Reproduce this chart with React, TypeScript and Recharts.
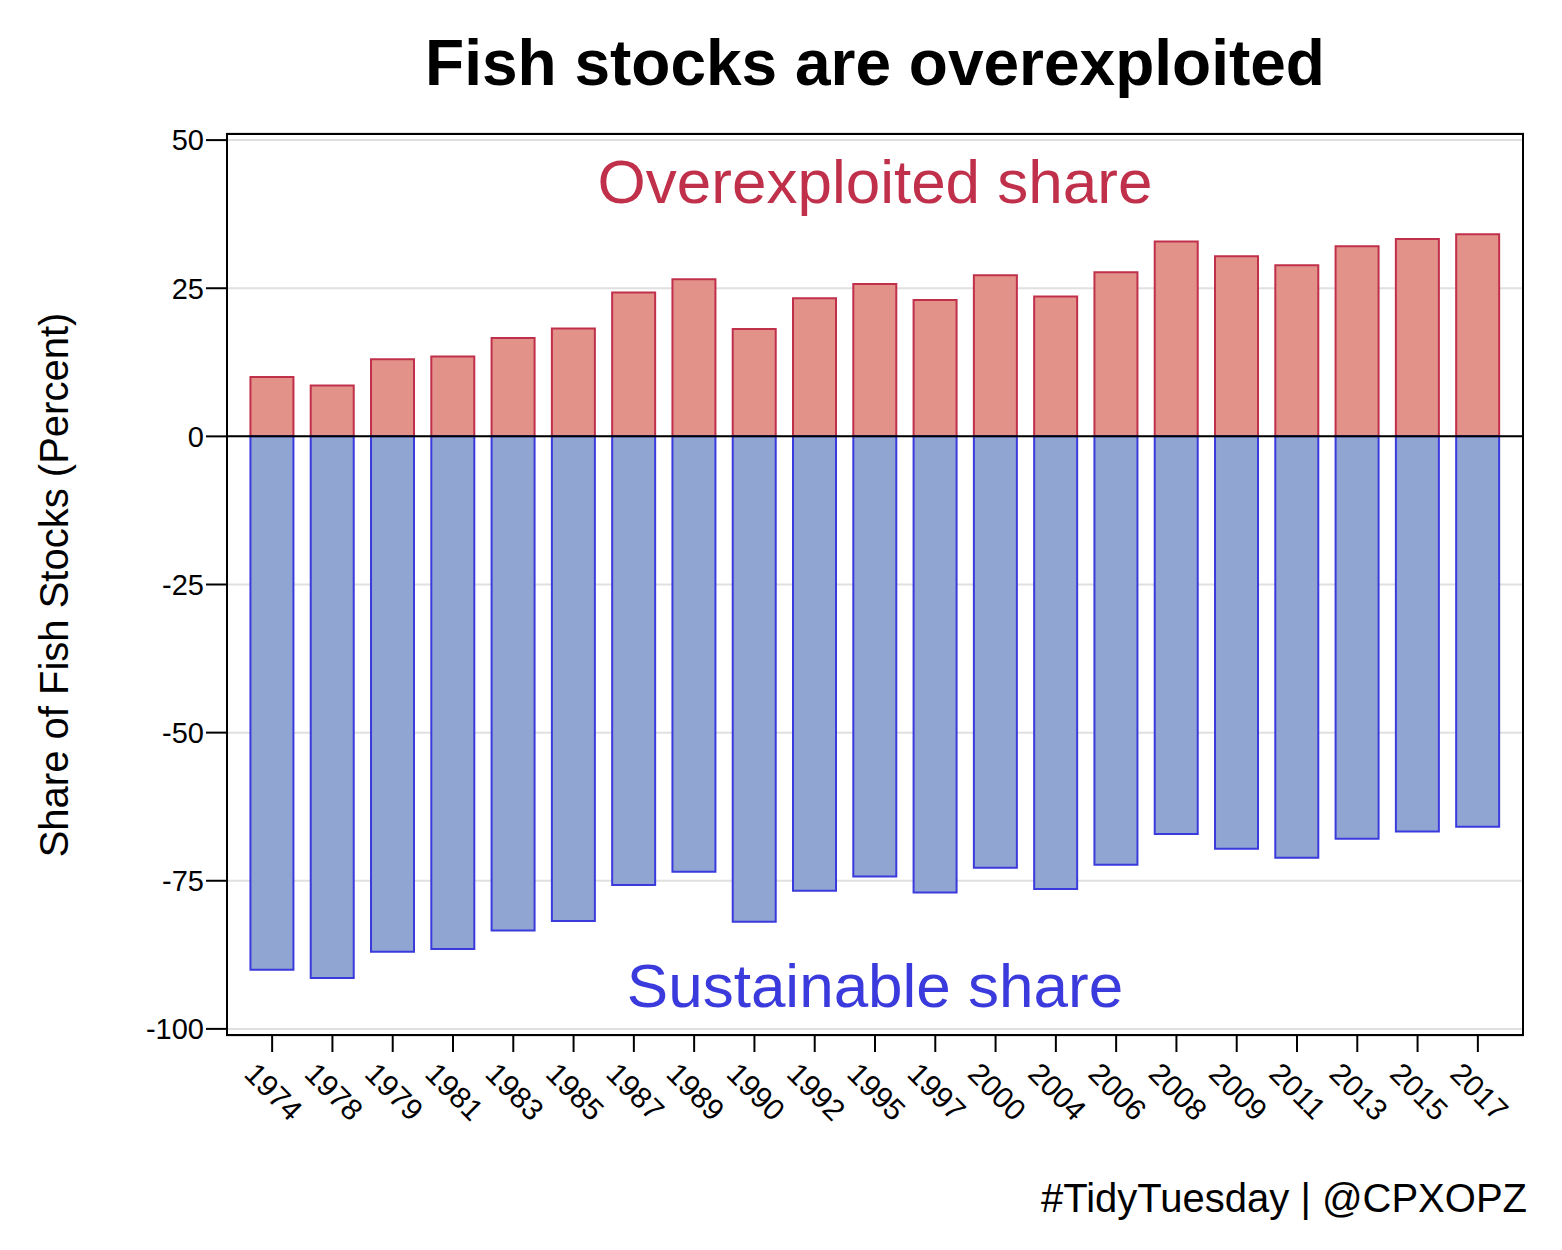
import React from "react";
import { ComposedChart, Bar, XAxis, YAxis, CartesianGrid, ReferenceLine } from "recharts";

const years = ["1974","1978","1979","1981","1983","1985","1987","1989","1990","1992","1995","1997","2000","2004","2006","2008","2009","2011","2013","2015","2017"];
const overexploited = [10.0,8.6,13.0,13.5,16.6,18.2,24.3,26.5,18.1,23.3,25.7,23.0,27.2,23.6,27.7,32.9,30.4,28.9,32.1,33.3,34.1];
const sustainable = overexploited.map((v) => -(100 - v));
const yTicks = [50, 25, 0, -25, -50, -75, -100];

const data = years.map((y, i) => ({ year: y, over: overexploited[i], sus: sustainable[i] }));
const font = "Arial, 'Liberation Sans', sans-serif";

const XTick = (props: any) => {
  const { x, y, payload } = props;
  const ax = x - 22, ay = y + 14;
  return (
    <text x={ax} y={ay} transform={`rotate(45, ${ax}, ${ay})`} fontSize={30} fontFamily={font} fill="#000" textAnchor="start" dominantBaseline="central">
      {payload.value}
    </text>
  );
};

export default function App() {
  return (
    <div style={{ position: "relative", width: 1546, height: 1234, fontFamily: font }}>
      <ComposedChart width={1546} height={1234} data={data} stackOffset="sign" margin={{ top: 125, right: 30, bottom: 106, left: 138 }} barCategoryGap="14%">
        <CartesianGrid vertical={false} stroke="#e0e0e0" strokeWidth={2} />
        <XAxis dataKey="year" height={100} padding={{ left: 16, right: 16 }} tick={<XTick />} tickSize={16} axisLine={false} tickLine={{ stroke: "#000", strokeWidth: 2 }} interval={0} />
        <YAxis domain={[-101.2, 51.2]} ticks={yTicks} width={80} tickSize={20} axisLine={false} tickLine={{ stroke: "#000", strokeWidth: 2 }} tick={{ fontSize: 29, fill: "#000", fontFamily: font }} allowDataOverflow />
        <Bar dataKey="over" stackId="a" fill="#e3928a" stroke="#c0304a" strokeWidth={2} isAnimationActive={false} />
        <Bar dataKey="sus" stackId="a" fill="#91a5d3" stroke="#3b3bdd" strokeWidth={2} isAnimationActive={false} />
        <ReferenceLine y={0} stroke="#000" strokeWidth={2} />
      </ComposedChart>
      <div style={{ position: "absolute", left: 218, top: 125, width: 1298, height: 903, border: "2px solid #000", boxSizing: "border-box", pointerEvents: "none" }} />
      <div style={{ position: "absolute", left: 218, width: 1298, top: 18, textAlign: "center", fontSize: 64, fontWeight: "bold" }}>Fish stocks are overexploited</div>
      <div style={{ position: "absolute", left: 218, width: 1298, top: 138, textAlign: "center", fontSize: 62, color: "#c0304a" }}>Overexploited share</div>
      <div style={{ position: "absolute", left: 218, width: 1298, top: 942, textAlign: "center", fontSize: 62, color: "#3b3bdd" }}>Sustainable share</div>
      <div style={{ position: "absolute", right: 27, top: 1168, fontSize: 40 }}>#TidyTuesday | @CPXOPZ</div>
      <div style={{ position: "absolute", left: 46, top: 577, width: 0, height: 0 }}>
        <div style={{ position: "absolute", transform: "translate(-50%,-50%) rotate(-90deg)", whiteSpace: "nowrap", fontSize: 40 }}>Share of Fish Stocks (Percent)</div>
      </div>
    </div>
  );
}
